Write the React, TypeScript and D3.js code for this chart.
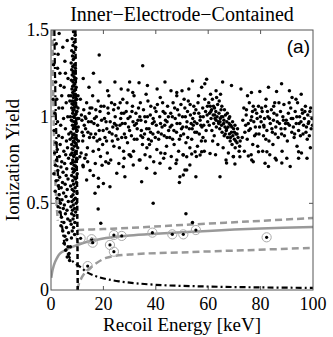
import React from 'react';
import * as d3 from 'd3';

const W = 333;
const H = 337;
const margin = { top: 30, right: 20, bottom: 47, left: 51 };

// axis ticks
const xTicks = [0, 20, 40, 60, 80, 100];
const yTicks = [0, 0.5, 1, 1.5];
const yTickLabels = ['0', '0.5', '1', '1.5'];

// events near the 10 keV threshold
const clusterPts = [
  [8.6,1.49],[9.2,1.47],[8.1,1.45],[8.9,1.43],[8.4,1.41],[9.4,1.4],[7.9,1.38],[8.7,1.37],[8.2,1.35],[9.1,1.34],
  [8.5,1.33],[7.7,1.31],[8.9,1.3],[8.3,1.29],[9.3,1.28],[7.9,1.27],[8.6,1.26],[9.0,1.25],[8.1,1.24],[8.8,1.23],
  [9.5,1.22],[7.8,1.21],[8.4,1.2],[9.1,1.19],[8.7,1.18],[9.6,1.17],[8.0,1.16],[8.9,1.15],[8.3,1.14],[9.3,1.13],
  [7.6,1.12],[8.6,1.11],[9.8,1.1],[8.2,1.09],[9.0,1.08],[8.5,1.07],[9.5,1.06],[7.9,1.05],[8.8,1.04],[9.9,1.03],
  [8.3,1.02],[9.2,1.01],[8.6,1.0],[10.1,0.99],[7.8,0.98],[8.9,0.97],[9.6,0.96],[8.2,0.95],[9.1,0.94],[8.5,0.93],
  [10.0,0.92],[7.6,0.91],[8.8,0.9],[9.4,0.89],[8.1,0.88],[9.7,0.87],[8.6,0.86],[9.2,0.85],[7.9,0.84],[8.9,0.83],
  [10.2,0.82],[8.4,0.81],[9.5,0.8],[8.0,0.79],[9.0,0.78],[8.7,0.77],[9.8,0.76],[8.3,0.75],[9.3,0.74],[7.7,0.73],
  [8.8,0.72],[9.6,0.71],[8.2,0.7],[9.1,0.69],[8.5,0.68],[10.0,0.67],[7.9,0.66],[8.9,0.65],[9.4,0.64],[8.3,0.63],
  [9.7,0.62],[8.6,0.61],[7.5,0.6],[9.2,0.59],[8.1,0.58],[8.8,0.57],[9.9,0.56],[8.4,0.55],[7.8,0.54],[9.3,0.53],
  [8.7,0.52],[8.0,0.51],[9.6,0.5],[8.5,0.49],[7.6,0.48],[9.0,0.47],[8.2,0.46],[9.4,0.45],[7.9,0.44],[8.8,0.43],
  [8.4,0.41],[9.1,0.39],[7.7,0.38],[8.6,0.36],[8.1,0.34],[9.0,0.32],[7.8,0.3],
  [8.5,1.255],[9.0,1.215],[8.3,1.175],[9.2,1.155],[8.7,1.125],[9.4,1.095],[8.0,1.075],[9.0,1.055],[8.4,1.035],
  [9.5,1.015],[8.9,0.995],[8.1,0.975],[9.3,0.955],[8.7,0.935],[9.8,0.915],[8.3,0.895],[9.1,0.875],[8.5,0.855],
  [9.6,0.835],[8.0,0.815],[9.2,0.795],[8.6,0.775],[9.9,0.755],[8.2,0.735],[9.4,0.715],[8.8,0.695],[10.3,1.05],
  [10.4,0.94],[10.5,0.86],[10.3,1.12],[7.4,1.0],[7.3,0.87],[7.5,0.78],[10.6,0.99],[7.2,1.09],
];

// events below 7 keV
const leftPts = [
  [3.1,1.48],[2.7,1.36],[5.3,1.32],[3.4,1.25],[6.5,1.22],[5.0,1.17],[4.5,1.4],[6.2,1.44],[1.8,1.2],[2.2,1.1],
  [4.1,1.12],[5.8,1.08],[3.0,1.05],[1.5,1.02],[6.4,1.0],[4.8,0.99],[2.5,0.97],[3.7,0.95],[5.5,0.93],[1.2,0.92],
  [6.8,0.9],[2.9,0.89],[4.3,0.88],[5.9,0.86],[1.9,0.85],[3.5,0.84],[6.3,0.82],[2.4,0.81],[4.9,0.8],[1.4,0.79],
  [5.6,0.78],[3.2,0.77],[6.7,0.76],[2.1,0.75],[4.1,0.74],[5.2,0.73],[1.7,0.72],[3.8,0.71],[6.0,0.7],[2.6,0.69],
  [4.6,0.68],[1.1,0.67],[5.8,0.66],[3.3,0.65],[6.5,0.64],[2.0,0.63],[4.4,0.62],[5.4,0.61],[2.8,0.6],[3.9,0.59],
  [6.2,0.58],[1.6,0.57],[4.8,0.56],[3.1,0.55],[5.7,0.54],[2.3,0.53],[4.2,0.52],[6.6,0.51],[3.6,0.5],[5.1,0.49],
  [2.7,0.48],[4.7,0.47],[6.1,0.46],[3.4,0.45],[5.5,0.44],[4.0,0.42],[6.4,0.41],[4.9,0.39],[3.8,0.37],[5.9,0.36],
  [4.5,0.34],[6.7,0.33],[5.3,0.31],[6.0,0.29],[5.0,0.27],[6.5,0.25],[5.6,0.23],[6.9,0.21],[6.2,0.19],[7.1,0.17],
  [7.4,0.25],[7.3,0.4],[1.0,1.3],[2.0,1.42],[0.8,1.1],[3.6,1.18],[5.5,1.25],[6.8,1.12],[4.4,1.05],[2.5,1.28],
];

// electron-recoil band above 11 keV
const bandPts = [
  [11.2,1.1],[11.8,0.98],[12.1,0.86],[12.5,1.04],[12.9,0.76],[13.2,0.93],[13.6,1.08],[13.9,0.82],[14.3,0.97],[14.7,0.88],
  [11.5,0.79],[12.2,0.72],[13.0,1.0],[14.0,0.74],[14.6,1.02],[11.9,0.91],[13.4,0.78],[12.7,0.95],
  [15.2,0.9],[15.6,1.05],[16.1,0.8],[16.4,0.96],[16.9,0.73],[17.3,1.0],[17.6,0.86],[18.0,1.09],[18.4,0.92],[18.9,0.77],
  [19.3,0.98],[19.7,0.84],[15.9,1.12],[17.0,0.9],[18.7,1.03],[19.5,0.72],[16.6,0.99],[18.2,0.81],
  [20.2,1.06],[20.6,0.88],[21.0,0.97],[21.5,0.79],[21.9,1.02],[22.3,0.91],[22.8,0.75],[23.1,1.08],[23.6,0.94],[24.0,0.83],
  [24.5,1.0],[24.8,0.89],[20.9,0.74],[22.1,1.12],[23.4,0.86],[24.2,0.96],[21.3,0.93],[23.9,1.04],
  [25.3,0.93],[25.7,1.05],[26.1,0.82],[26.6,0.99],[27.0,0.88],[27.4,1.1],[27.9,0.76],[28.3,0.96],[28.7,1.03],[29.2,0.85],
  [29.6,0.94],[25.9,0.73],[26.9,1.02],[28.0,0.9],[29.0,1.08],[26.3,0.95],[27.7,0.8],[29.8,0.78],
  [30.2,1.0],[30.7,0.89],[31.1,1.06],[31.5,0.8],[31.9,0.95],[32.4,1.02],[32.8,0.87],[33.2,0.98],[33.7,0.75],[34.1,1.08],
  [34.5,0.92],[34.9,0.84],[30.5,0.77],[31.7,1.12],[32.9,0.93],[33.9,1.0],[31.3,0.97],[34.3,0.89],
  [35.3,1.04],[35.7,0.9],[36.1,0.97],[36.6,0.82],[37.0,1.09],[37.4,0.93],[37.9,1.01],[38.3,0.86],[38.7,0.96],[39.2,0.74],
  [39.6,1.05],[35.9,0.78],[36.8,1.0],[38.0,0.91],[39.0,0.99],[36.3,1.13],[37.6,0.84],[39.8,0.88],
  [40.2,0.95],[40.6,1.07],[41.1,0.87],[41.5,1.0],[41.9,0.79],[42.4,0.94],[42.8,1.03],[43.2,0.89],[43.7,0.98],[44.1,0.83],
  [44.5,1.06],[44.9,0.92],[40.4,0.81],[41.7,1.11],[43.0,0.76],[44.3,0.97],[42.1,0.9],[43.5,1.02],
  [45.3,0.88],[45.7,1.02],[46.1,0.95],[46.6,1.08],[47.0,0.84],[47.4,0.99],[47.9,0.91],[48.3,1.04],[48.7,0.8],[49.2,0.96],
  [49.6,1.07],[45.9,0.77],[46.9,0.92],[48.0,1.12],[49.0,0.87],[46.3,1.0],[47.7,0.73],[49.8,0.93],
  [50.2,1.0],[50.6,0.9],[51.1,1.05],[51.5,0.85],[51.9,0.97],[52.4,1.09],[52.8,0.93],[53.2,1.01],[53.7,0.87],[54.1,0.99],
  [54.5,1.06],[54.9,0.91],[50.4,0.78],[51.7,0.94],[53.0,0.82],[54.3,0.95],[52.1,1.03],[53.5,0.96],[50.8,1.1],[54.7,1.02],
  [55.3,1.04],[55.7,0.96],[56.1,1.08],[56.6,0.9],[57.0,1.0],[57.4,0.86],[57.9,1.05],[58.3,0.95],[58.7,1.1],[59.2,0.92],
  [59.6,1.01],[55.9,0.83],[56.9,0.98],[58.0,0.88],[59.0,1.03],[56.3,1.12],[57.6,0.94],[59.8,0.97],[55.5,0.77],[58.5,0.8],
  [60.2,1.08],[60.5,1.02],[60.8,1.06],[61.1,0.99],[61.3,1.04],[61.6,1.1],[61.9,1.01],[62.1,0.96],[62.4,1.05],[62.6,0.99],
  [62.9,1.03],[63.1,0.94],[63.4,1.0],[63.6,1.07],[63.9,0.97],[64.1,1.02],[64.4,0.93],[64.6,0.99],[64.9,1.04],[65.1,0.95],
  [65.3,0.91],[65.6,1.0],[65.9,0.96],[66.1,0.89],[66.4,0.94],[66.6,1.01],[66.9,0.92],[67.1,0.97],[67.4,0.88],[67.6,0.94],
  [67.9,0.99],[68.1,0.9],[68.4,0.86],[68.6,0.95],[68.9,0.91],[69.1,0.84],[69.4,0.89],[69.7,0.93],[70.0,0.87],[70.3,0.82],
  [70.6,0.9],[71.0,0.85],[71.4,0.88],[71.8,0.8],[72.2,0.86],[60.4,0.95],[61.4,0.92],[62.3,0.89],[63.2,1.11],[64.2,1.09],
  [65.2,1.06],[66.2,1.04],[67.3,1.02],[68.2,1.0],[69.3,0.97],[70.2,0.95],[71.2,0.93],[61.7,0.86],[63.7,0.84],[65.7,0.82],
  [67.7,0.79],[69.6,0.77],[62.8,0.78],[66.8,0.75],[60.9,1.13],[64.7,1.13],
  [73.2,0.98],[73.6,1.05],[74.0,0.91],[74.5,1.01],[74.9,0.87],[75.3,0.96],[75.7,1.08],[76.1,0.93],[76.6,1.0],[77.0,0.84],
  [77.4,0.97],[77.9,1.04],[78.3,0.9],[78.7,0.99],[79.2,1.06],[79.6,0.94],[73.8,0.8],[75.0,1.12],[76.4,0.78],[77.7,0.89],
  [78.9,0.83],[79.9,1.0],[74.3,0.95],[76.9,1.03],
  [80.2,0.97],[80.6,1.03],[81.1,0.89],[81.5,0.99],[81.9,1.06],[82.4,0.92],[82.8,1.0],[83.2,0.86],[83.7,0.96],[84.1,1.04],
  [84.5,0.91],[84.9,0.98],[85.4,1.08],[85.8,0.94],[86.2,1.01],[86.7,0.88],[80.8,0.8],[82.1,1.1],[83.5,0.78],[84.7,0.84],
  [86.0,0.75],[81.3,0.94],[85.1,1.02],
  [87.2,0.96],[87.6,1.03],[88.0,0.9],[88.5,1.0],[88.9,1.07],[89.3,0.93],[89.8,0.98],[90.2,0.86],[90.6,1.02],[91.0,0.95],
  [91.5,1.05],[91.9,0.91],[92.3,0.99],[92.8,0.88],[93.2,1.03],[93.6,0.96],[94.1,1.08],[94.5,0.92],[94.9,1.0],[95.4,0.97],
  [95.8,1.04],[96.2,0.9],[96.7,0.99],[97.1,1.06],[97.5,0.94],[98.0,1.01],[98.4,0.97],[98.8,1.03],[99.3,0.93],[99.6,0.99],
  [88.2,0.8],[90.0,0.76],[92.0,1.11],[93.9,0.83],[95.6,0.79],[97.8,0.87],[99.0,0.82],[89.5,0.96],[96.0,1.02],
];

// extra events in the core of the band
const bandCorePts = [
  [11.6,1.01],[12.4,0.89],[13.3,0.99],[14.1,0.91],[14.9,1.05],[15.4,0.97],[16.3,0.88],[17.1,1.04],[17.8,0.95],[18.6,0.87],
  [19.1,1.06],[19.9,0.92],[20.4,0.99],[21.2,0.86],[21.7,1.05],[22.6,0.97],[23.3,0.9],[24.3,1.07],[24.9,0.95],[25.5,0.87],
  [26.4,1.08],[27.2,0.96],[27.8,1.02],[28.5,0.88],[29.4,0.99],[30.0,0.92],[30.9,1.03],[31.8,0.87],[32.6,0.96],[33.4,1.05],
  [34.3,0.98],[35.0,0.88],[35.8,1.0],[36.5,0.93],[37.2,0.87],[38.1,1.06],[38.9,0.9],[39.4,0.97],[40.1,1.03],[40.9,0.91],
  [41.8,0.96],[42.6,1.08],[43.4,0.95],[44.2,0.88],[44.8,1.0],[45.5,0.94],[46.4,0.87],[47.2,1.05],[48.1,0.96],[48.9,1.01],
  [49.5,0.89],[50.3,0.94],[51.3,1.0],[52.2,0.88],[53.1,1.07],[53.9,0.93],[54.8,0.97],[55.6,0.91],[56.4,1.02],[57.2,0.95],
  [58.1,1.0],[58.9,0.86],[59.7,1.06],[74.6,1.04],[75.5,0.92],[76.3,0.98],[77.2,1.06],[78.0,0.94],[78.5,1.02],[79.4,0.9],
  [80.4,1.05],[81.2,0.95],[82.0,0.87],[82.6,1.03],[83.4,0.99],[84.3,0.93],[85.0,1.06],[85.6,0.9],[86.4,0.97],[87.0,1.08],
  [87.8,0.93],[88.7,0.98],[89.1,0.89],[90.4,0.96],[90.9,1.08],[91.7,0.99],[92.5,0.94],[93.0,0.9],[93.8,1.0],[94.7,0.96],
  [95.2,0.89],[96.4,0.95],[96.9,1.03],[97.3,0.91],[98.2,0.96],[98.6,0.89],[99.1,1.05],[99.8,0.95],
  [61.0,1.03],[62.0,1.06],[63.0,0.98],[64.0,0.96],[65.0,1.0],[66.0,0.98],[67.0,0.93],[68.0,0.96],[69.0,0.94],[70.0,0.91],
  [71.0,0.9],[72.0,0.83],[62.5,1.01],[64.5,0.97],[66.5,0.9],[68.5,0.88],[70.5,0.86],[73.0,0.88],
];

// sparse events above the band
const highPts = [
  [18.4,1.356],[35.0,1.294],[18.7,1.2],[24.4,1.2],[29.4,1.154],[33.6,1.196],[36.8,1.18],[43.5,1.2],[48.0,1.14],[50.0,1.15],
  [54.0,1.206],[57.5,1.17],[58.7,1.19],[59.4,1.216],[68.9,1.18],[79.7,1.145],[86.1,1.145],[14.5,1.17],[21.6,1.15],[26.8,1.16],
  [31.2,1.14],[40.5,1.16],[45.8,1.15],[52.6,1.16],[63.0,1.15],[72.5,1.16],[76.5,1.14],[83.0,1.17],[91.0,1.15],[95.5,1.13],
  [12.3,1.22],[16.2,1.25],[30.0,1.2],[65.5,1.2],[88.0,1.19],[93.5,1.1],
];

// sparse events below the band
const lowPts = [
  [14.9,0.69],[16.2,0.66],[18.1,0.644],[18.1,0.596],[22.0,0.731],[22.5,0.596],[25.1,0.673],[27.6,0.711],[28.2,0.654],[30.2,0.779],
  [31.4,0.721],[34.0,0.75],[34.6,0.625],[36.5,0.702],[37.8,0.769],[39.7,0.673],[41.6,0.731],[43.5,0.788],[45.4,0.702],[48.0,0.75],
  [49.2,0.654],[51.8,0.769],[51.8,0.692],[11.0,0.769],[12.3,0.711],[13.6,0.635],[16.8,0.558],[20.0,0.615],
  [18.0,0.467],[19.0,0.385],[39.0,0.5],[51.5,0.44],[54.0,0.39],[64.5,0.654],[55.3,0.654],[49.0,0.62],
  [50.5,0.779],[53.7,0.785],[55.0,0.798],[56.9,0.779],[57.5,0.798],[60.7,0.788],[67.0,0.733],[69.6,0.769],[70.2,0.727],[72.1,0.769],
  [75.3,0.773],[76.6,0.75],[77.2,0.74],[79.2,0.798],[81.7,0.731],[82.4,0.798],[83.0,0.712],[85.6,0.76],[88.1,0.733],[91.3,0.712],
  [94.5,0.798],[94.5,0.76],[97.7,0.76],[50.5,0.664],[53.0,0.721],[51.1,0.692],
];

// nuclear-recoil candidates (circled)
const circledPts = [
  [11.3,0.298],[15.5,0.293],[15.9,0.273],[24.0,0.317],[27.0,0.312],[22.5,0.26],[24.0,0.221],[14.0,0.138],
  [38.7,0.331],[46.3,0.321],[50.5,0.321],[55.3,0.346],[82.3,0.304],
];

// curves
const nrMean = [[0.1,0.07],[0.6,0.115],[1.5,0.16],[3.4,0.21],[5.5,0.23],[8.4,0.25],[12,0.27],[16,0.285],[21,0.3],[30,0.315],[40,0.325],[50,0.333],[65,0.345],[80,0.355],[100,0.364]];
const nrUpper = [[10,0.346],[20,0.352],[30,0.358],[50,0.375],[75,0.395],[100,0.415]];
const nrLower = [[10,0.0],[11,0.05],[13,0.1],[16,0.14],[21,0.185],[30,0.205],[50,0.217],[75,0.23],[100,0.243]];
const leftGray = [[0.6,1.5],[0.9,1.1],[1.3,0.8],[1.9,0.55],[2.6,0.4]];
const ionThreshold = [[1.3,1.5],[1.7,1.1],[2.3,0.78],[3.0,0.58],[3.6,0.46],[4.3,0.36],[5.3,0.26],[7,0.19],[9,0.155],[11,0.135],[14,0.1],[18,0.075],[26,0.05],[40,0.03],[60,0.02],[80,0.015],[100,0.012]];
const recoilThreshold = [[9.3,1.5],[9.6,1.0],[10.0,0.5],[10.2,0.0]];

export default function App() {
  const iw = W - margin.left - margin.right;
  const ih = H - margin.top - margin.bottom;
  const x = d3.scaleLinear().domain([0, 100]).range([0, iw]);
  const y = d3.scaleLinear().domain([0, 1.5]).range([ih, 0]);
  const line = d3.line<number[]>().x(d => x(d[0])).y(d => y(d[1])).curve(d3.curveCatmullRom);

  const dots = [...leftPts, ...clusterPts, ...bandPts, ...bandCorePts, ...highPts, ...lowPts];
  const serif = '"Liberation Serif", "Times New Roman", serif';

  return (
    <div style={{ position: 'absolute', left: 0, top: 0 }}>
      <svg width={W} height={H} style={{ display: 'block', background: '#fff' }}>
        <defs>
          <clipPath id="plot-clip">
            <rect x={0} y={0} width={iw} height={ih} />
          </clipPath>
        </defs>
        <text x={182} y={21} textAnchor="middle" fontFamily={serif} fontSize={20}>Inner−Electrode−Contained</text>
        <g transform={`translate(${margin.left},${margin.top})`}>
          <g clipPath="url(#plot-clip)">
            <path d={line(leftGray) || ''} fill="none" stroke="#999" strokeWidth={2.5} strokeDasharray="6,4" />
            <path d={line(nrUpper) || ''} fill="none" stroke="#999" strokeWidth={2.5} strokeDasharray="7,4" />
            <path d={line(nrLower) || ''} fill="none" stroke="#999" strokeWidth={2.5} strokeDasharray="7,4" />
            <path d={line(nrMean) || ''} fill="none" stroke="#999" strokeWidth={2.5} />
            {dots.map((d, i) => (
              <circle key={i} cx={x(d[0])} cy={y(d[1])} r={1.75} fill="#000" />
            ))}
            {circledPts.map((d, i) => (
              <g key={'c' + i}>
                <circle cx={x(d[0])} cy={y(d[1])} r={4.6} fill="none" stroke="#aaa" strokeWidth={1} />
                <circle cx={x(d[0])} cy={y(d[1])} r={1.6} fill="#000" />
              </g>
            ))}
            <path d={line(recoilThreshold) || ''} fill="none" stroke="#000" strokeWidth={2.5} strokeDasharray="5,3" />
            <path d={line(ionThreshold) || ''} fill="none" stroke="#000" strokeWidth={2.2} strokeDasharray="6,3,2,3" />
          </g>
          <rect x={0} y={0} width={iw} height={ih} fill="none" stroke="#555" strokeWidth={1} />
          {xTicks.slice(1, -1).map(t => (
            <g key={'xt' + t}>
              <line x1={x(t)} x2={x(t)} y1={ih} y2={ih - 4} stroke="#555" />
              <line x1={x(t)} x2={x(t)} y1={0} y2={4} stroke="#555" />
            </g>
          ))}
          {yTicks.slice(1, -1).map(t => (
            <g key={'yt' + t}>
              <line x1={0} x2={4} y1={y(t)} y2={y(t)} stroke="#555" />
              <line x1={iw} x2={iw - 4} y1={y(t)} y2={y(t)} stroke="#555" />
            </g>
          ))}
          {xTicks.map(t => (
            <text key={'xl' + t} x={x(t)} y={ih + 20} textAnchor="middle" fontFamily={serif} fontSize={18}>{t}</text>
          ))}
          {yTicks.map((t, i) => (
            <text key={'yl' + t} x={-2} y={y(t) + 6} textAnchor="end" fontFamily={serif} fontSize={18}>{yTickLabels[i]}</text>
          ))}
          <text x={iw - 3} y={23} textAnchor="end" fontFamily='"Liberation Sans", Arial, sans-serif' fontSize={19}>(a)</text>
          <text x={iw / 2} y={ih + 41} textAnchor="middle" fontFamily={serif} fontSize={19}>Recoil Energy [keV]</text>
        </g>
        <text transform={`translate(19,${margin.top + ih / 2}) rotate(-90)`} textAnchor="middle" fontFamily={serif} fontSize={19}>Ionization Yield</text>
      </svg>
    </div>
  );
}
